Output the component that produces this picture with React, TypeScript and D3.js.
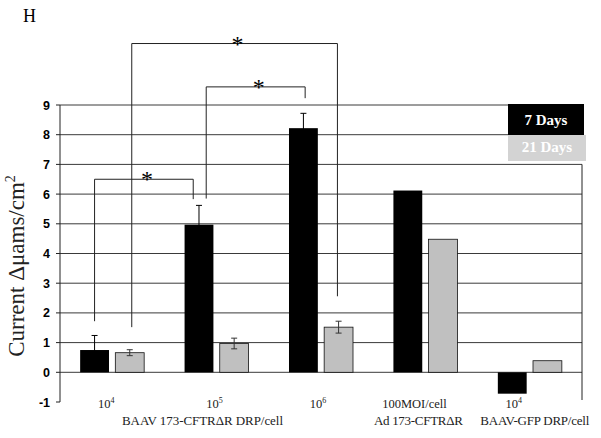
import React from "react";
import * as d3 from "d3";

// groups along the x axis
const groups = ["g1", "g2", "g3", "g4", "g5"];
const series = ["7 Days", "21 Days"];
const days7 = [0.75, 4.97, 8.22, 6.12, -0.72];
const days21 = [0.66, 0.97, 1.52, 4.48, 0.39];
const err7 = [0.49, 0.65, 0.5, 0, 0];
const err21 = [0.1, 0.18, 0.2, 0, 0];
const yTicks = [-1, 0, 1, 2, 3, 4, 5, 6, 7, 8, 9];
const doseSup = ["4", "5", "6", "", "4"];
const lineOne = ["10", "10", "10", "100MOI/cell", "10"];
const lineTwo = ["", "", "", "Ad 173-CFTR\u0394R", "BAAV-GFP DRP/cell"];
const lineTwoShared = "BAAV 173-CFTR\u0394R  DRP/cell";

// significance brackets: [group, series, fraction across bar]
const brackets = [
  { a: [0, 0, 0.5], b: [1, 0, 0.3], top: 6.5, aBot: 1.72, bBot: 5.83 },
  { a: [1, 0, 0.75], b: [2, 0, 0.56], top: 9.61, aBot: 5.85, bBot: 9.23 },
  { a: [0, 1, 0.57], b: [2, 1, 0.46], top: 11.07, aBot: 1.52, bBot: 2.56 },
];

const W = 601, H = 438;
const left = 60, right = 582;
const serif = "'Liberation Serif', 'Times New Roman', serif";
const sans = "'Liberation Sans', Arial, sans-serif";
// label nudges relative to the group centre
const labelShift = [-6, -2, -3, -11, -16];
const line2Shift = [0, 0, 0, -7, 5];
const line2Len = [0, 0, 0, 89, 109];

const App = () => {
  const x = d3.scaleBand().domain(groups).range([left, right]).paddingInner(0.387).paddingOuter(0.193);
  const xs = d3.scaleBand().domain(series).range([0, x.bandwidth()]).paddingInner(0.18);
  const y = d3.scaleLinear().domain([-1, 9]).range([402, 105]);

  const barX = (g: number, s: number, f: number) =>
    (x(groups[g]) as number) + (xs(series[s]) as number) + xs.bandwidth() * f;
  const mid = (g: number) => (x(groups[g]) as number) + x.bandwidth() / 2;

  const vals = [days7, days21];
  const errs = [err7, err21];
  const fills = ["#000", "#c0c0c0"];

  return (
    <svg width={W} height={H} style={{ position: "absolute", left: 0, top: 0, background: "#fff" }}>
      <rect width={W} height={H} fill="#fff" />
      <text x={23} y={22} fontFamily={serif} fontSize={18}>H</text>

      {/* gridlines */}
      {yTicks.filter((t) => t >= 0).map((t) => (
        <line key={t} x1={left} x2={t >= 8 ? 508 : right} y1={y(t)} y2={y(t)} stroke="#3a3a3a" strokeWidth={1} />
      ))}
      <line x1={left} x2={left} y1={y(9)} y2={y(-1)} stroke="#222" />
      <line x1={right} x2={right} y1={y(7)} y2={y(-1) - 2} stroke="#222" />
      {yTicks.map((t) => (
        <g key={t}>
          <line x1={left - 4} x2={left} y1={y(t)} y2={y(t)} stroke="#222" />
          <text x={50} y={y(t)} dy="0.36em" textAnchor="end" fontFamily={sans} fontWeight="bold" fontSize={12.5}>{t}</text>
        </g>
      ))}

      {/* bars */}
      {vals.map((arr, s) =>
        arr.map((v, g) => (
          <rect key={s + "-" + g} x={barX(g, s, 0)} width={xs.bandwidth()}
            y={y(Math.max(0, v))} height={Math.abs(y(v) - y(0))}
            fill={fills[s]} stroke="#111" strokeWidth={s === 1 ? 0.8 : 0} />
        ))
      )}

      {/* error bars */}
      {errs.map((arr, s) =>
        arr.map((e, g) => {
          if (!e) return null;
          const cx = barX(g, s, 0.5);
          const v = vals[s][g];
          return (
            <g key={s + "-" + g} stroke={s === 0 ? "#000" : "#333"} strokeWidth={1}>
              <line x1={cx} x2={cx} y1={y(v + e)} y2={y(v - e)} />
              <line x1={cx - 3} x2={cx + 3} y1={y(v + e)} y2={y(v + e)} />
              <line x1={cx - 3} x2={cx + 3} y1={y(v - e)} y2={y(v - e)} />
            </g>
          );
        })
      )}

      {/* significance brackets */}
      {brackets.map((b, i) => {
        const xa = barX(b.a[0], b.a[1], b.a[2]);
        const xb = barX(b.b[0], b.b[1], b.b[2]);
        return (
          <g key={i}>
            <path d={`M${xa},${y(b.aBot)}V${y(b.top)}H${xb}V${y(b.bBot)}`} fill="none" stroke="#222" strokeWidth={1} />
            <text x={(xa + xb) / 2 + 3} y={y(b.top) + 8} textAnchor="middle" fontFamily={serif} fontSize={24}>*</text>
          </g>
        );
      })}

      {/* legend */}
      <rect x={508} y={104} width={76} height={31} fill="#000" />
      <rect x={508} y={135} width={78} height={26} fill="#d3d3d3" />
      <text x={546} y={125} textAnchor="middle" fill="#fff" fontFamily={serif} fontWeight="bold" fontSize={15}>{series[0]}</text>
      <text x={547} y={152} textAnchor="middle" fill="#fff" fontFamily={serif} fontWeight="bold" fontSize={15}>{series[1]}</text>

      {/* x labels */}
      {groups.map((g, i) => {
        const cx = mid(i) + labelShift[i];
        return (
          <g key={g} fontFamily={serif} fontSize={12.5} fill="#222">
            <text x={cx} y={408} textAnchor="middle">
              {lineOne[i]}
              {doseSup[i] && <tspan fontSize={8} dy={-5}>{doseSup[i]}</tspan>}
            </text>
            {lineTwo[i] && (
              <text x={mid(i) + line2Shift[i]} y={425} textAnchor="middle" fontSize={13}
                textLength={line2Len[i]} lengthAdjust="spacing">{lineTwo[i]}</text>
            )}
          </g>
        );
      })}
      <text x={202.5} y={425} textAnchor="middle" fontFamily={serif} fontSize={13} fill="#222"
        textLength={161} lengthAdjust="spacing">{lineTwoShared}</text>

      {/* y title */}
      <text transform={`translate(24,266) rotate(-90)`} textAnchor="middle" fontFamily={serif} fontSize={23} fill="#222">
        Current {"\u0394\u03bc"}ams/cm<tspan fontSize={14} dy={-9}>2</tspan>
      </text>
    </svg>
  );
};

export default App;
